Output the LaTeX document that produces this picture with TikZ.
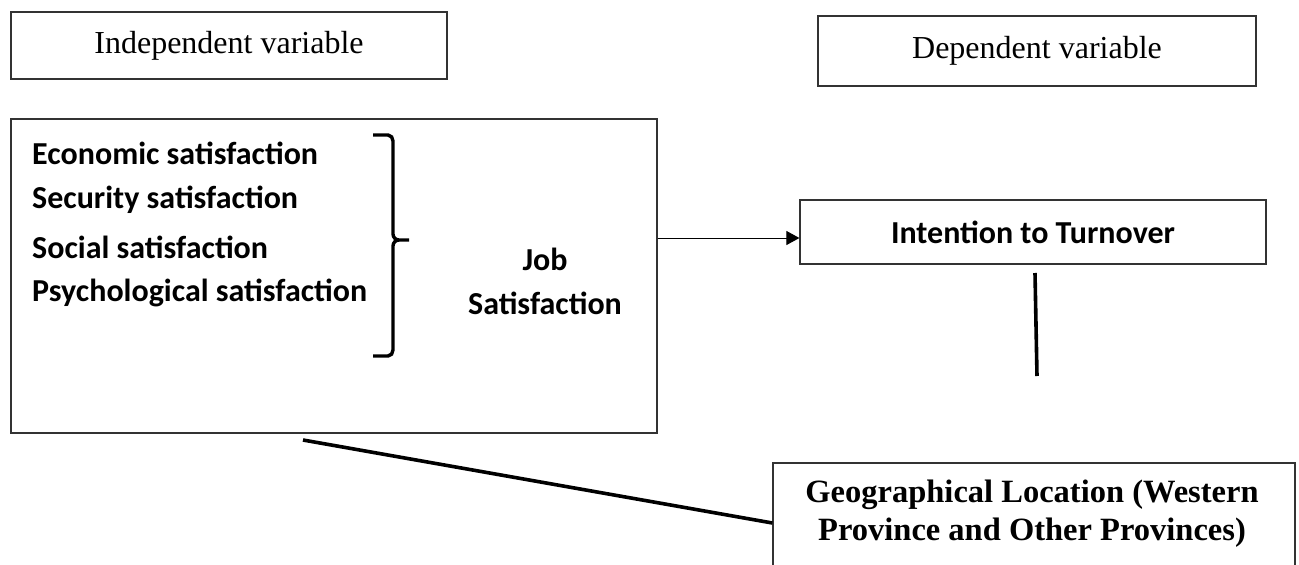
\documentclass[tikz,border=0pt]{standalone}
\usepackage{fontspec}
\setmainfont{Liberation Serif}
\newfontfamily\calfont{Carlito}
\usetikzlibrary{arrows.meta}
\tikzset{
  box/.style={draw=black!80, line width=1.2pt, inner sep=0pt},
  serifl/.style={font=\fontsize{32}{36}\selectfont},
  calb/.style={font=\calfont\bfseries\fontsize{32}{36}\selectfont, inner sep=0pt},
  thick line/.style={line width=3.6pt},
}
\begin{document}
\begin{tikzpicture}[x=1pt,y=1pt]
\useasboundingbox (0,0) rectangle (1299,-565);
% header boxes
\node[box, minimum width=436pt, minimum height=67pt, serifl] (indep) at (229,-45.5) {Independent variable};
\node[box, minimum width=438pt, minimum height=70pt, serifl] (dep) at (1037,-51) {Dependent variable};
% main box
\node[box, minimum width=646pt, minimum height=314pt] (main) at (334,-276) {};
\node[calb, anchor=west] (econ) at (32,-153) {Economic satisfaction};
\node[calb, anchor=west] (secu) at (32,-200) {Security satisfaction};
\node[calb, anchor=west] (soci) at (32,-247) {Social satisfaction};
\node[calb, anchor=west] (psyc) at (32,-293) {Psychological satisfaction};
\node[calb, align=center, font=\calfont\bfseries\fontsize{32}{44}\selectfont] (job) at (545,-281) {Job\\Satisfaction};
% brace
\draw[line width=3.4pt, line cap=butt]
  (373,-135) -- (388,-135) to[out=0,in=90] (393,-141) -- (393,-234)
  to[out=-90,in=180] (399,-240) -- (409,-240);
\draw[line width=3.4pt, line cap=butt]
  (399,-240) to[out=180,in=90] (393,-246) -- (393,-350)
  to[out=-90,in=0] (388,-356) -- (373,-356);
% intention box
\node[box, minimum width=466pt, minimum height=64pt, calb] (intent) at (1033,-232) {Intention to Turnover};
% geographical box
\node[box, minimum width=522pt, minimum height=120pt] (geo) at (1034,-523) {};
\node[align=center, font=\bfseries\fontsize{32.5}{38}\selectfont] (geotext) at (1032,-514) {Geographical Location (Western\\Province and Other Provinces)};
% connectors
\draw[line width=1pt, -{Triangle[length=13pt,width=14pt]}] (main.east |- 0,-238) -- ([yshift=-6pt]intent.west);
\coordinate (v1) at (1035,-273);
\coordinate (v2) at (1037,-376);
\draw[thick line] (v1) -- (v2);
\coordinate (d1) at (303,-440);
\draw[thick line] (d1) -- (geo.west);
\end{tikzpicture}
\end{document}
